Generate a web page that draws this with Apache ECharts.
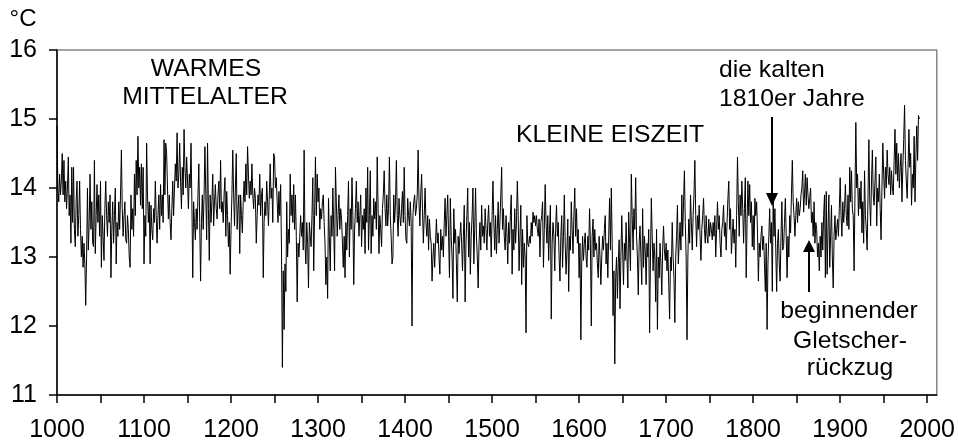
<!DOCTYPE html>
<html><head><meta charset="utf-8">
<script src="https://cdn.jsdelivr.net/npm/echarts@6/dist/echarts.min.js"></script>
<style>html,body{margin:0;padding:0;background:#fff}#c{width:958px;height:446px}</style>
</head><body><div id="c"></div>
<script>
// Yearly mean temperature (°C), one value per year
const firstYear = 1000;
const t1000s = [
14.9,14.0,13.8,14.2,13.9,14.1,14.5,13.9,14.4,13.8,
14.1,13.7,14.0,14.45,13.6,13.9,13.2,14.3,13.5,14.3,
13.4,13.15,13.8,14.1,13.3,13.6,14.1,13.4,13.0,13.3,
12.85,13.2,12.9,12.3,13.0,14.0,13.1,13.5,14.2,13.4,
13.8,13.2,13.15,14.4,13.05,13.6,14.05,13.5,13.9,13.3,
14.1,12.85,13.6,13.3,12.95,13.7,14.1,13.6,13.3,13.8,
13.5,13.9,12.7,13.4,13.8,13.2,13.6,14.0,12.9,13.5,
13.3,13.8,13.4,13.9,14.55,13.7,13.3,13.6,13.8,13.25,
13.2,13.6,13.4,13.0,12.85,13.9,13.4,13.7,13.3,14.2,
13.6,14.4,13.9,14.75,14.0,14.3,13.75,14.35,13.7,14.3];
const t1100s = [
12.9,13.6,13.3,14.65,13.9,13.5,13.8,12.9,13.75,13.4,
13.25,13.7,13.5,14.1,13.6,13.2,13.6,13.9,13.4,14.05,
13.6,13.9,13.5,14.7,13.9,14.65,14.5,14.0,13.55,13.9,
13.5,13.25,13.7,14.1,13.6,14.0,14.35,14.1,14.8,14.0,
14.2,14.65,14.1,13.7,14.3,13.9,14.85,14.3,14.0,14.45,
14.1,13.7,14.2,14.0,14.65,13.8,12.7,13.8,13.5,13.25,
13.7,13.4,13.9,14.35,13.5,12.65,13.5,13.9,13.4,13.9,
14.6,13.9,13.25,14.65,13.7,12.95,13.9,13.5,13.8,14.2,
13.45,13.8,14.05,13.7,13.55,13.9,14.1,13.7,14.4,13.65,
13.8,13.5,13.9,14.15,13.3,13.95,13.6,13.15,13.5,12.75];
const t1200s = [
13.4,13.9,14.55,13.9,13.45,14.0,14.5,13.4,13.7,13.9,
13.05,13.9,13.6,13.35,13.8,14.1,13.8,14.35,13.9,14.6,
14.2,13.85,14.1,13.9,14.35,13.9,13.7,14.0,13.85,13.2,
13.6,13.9,13.75,14.2,13.6,13.9,14.0,12.7,13.5,13.8,
13.6,14.1,13.8,13.45,13.9,14.35,13.85,14.0,13.5,14.5,
14.45,14.0,14.15,13.8,13.5,13.95,13.6,14.05,13.1,11.4,
12.8,11.95,12.9,12.5,13.8,13.0,13.4,13.2,14.2,13.6,
13.9,13.5,14.05,13.4,13.9,13.3,12.35,13.2,13.0,13.3,
13.6,13.3,13.5,13.1,14.55,13.2,12.9,13.5,13.2,12.55,
13.5,13.3,13.15,13.6,14.15,12.8,13.6,14.45,13.6,14.2];
const t1300s = [
13.8,14.0,13.4,13.7,13.55,13.8,13.9,13.5,13.2,12.6,
13.0,12.4,13.85,13.3,12.8,13.6,13.3,14.0,13.4,12.8,
14.3,13.8,13.3,13.6,13.9,13.4,13.7,13.55,13.2,12.85,
13.3,12.7,13.5,13.1,13.6,14.1,13.0,13.7,13.4,14.15,
13.6,12.6,13.4,13.7,14.1,13.5,13.8,13.3,13.6,13.9,
13.15,13.6,13.4,13.7,13.05,14.0,13.5,14.3,13.1,13.6,
14.25,13.05,13.6,13.3,13.85,13.55,13.8,13.4,14.45,13.7,
13.05,13.6,13.4,13.15,13.7,13.9,14.25,13.7,13.45,13.9,
13.45,13.7,14.45,13.6,13.3,12.9,13.0,13.9,13.5,13.8,
14.4,13.6,13.3,13.85,13.6,13.45,13.7,13.95,13.5,14.3];
const t1400s = [
13.6,13.25,13.2,13.85,13.6,13.45,13.8,13.5,12.0,13.6,
13.8,13.9,13.6,13.7,13.9,14.55,13.8,13.45,13.9,14.2,
13.7,13.2,13.6,14.0,13.5,13.3,13.6,13.1,13.55,13.3,
13.2,12.65,13.0,13.2,12.85,13.2,13.55,13.2,13.35,13.0,
12.75,13.4,13.1,13.3,13.0,13.5,13.85,13.3,13.6,13.9,
13.3,12.7,13.85,13.3,13.0,12.4,13.7,13.2,13.4,12.9,
12.35,13.3,13.05,13.3,13.5,13.2,12.8,13.3,13.75,12.35,
13.2,13.6,14.0,13.0,13.5,12.75,13.3,13.6,14.0,12.9,
13.4,14.0,13.3,13.0,12.55,13.2,13.5,13.1,13.75,13.3,
13.45,13.2,13.7,13.4,13.1,13.5,13.75,13.3,13.5,13.0];
const t1500s = [
13.6,14.1,13.5,13.1,13.6,13.05,13.4,13.8,13.2,13.5,
13.9,14.3,13.4,13.7,13.3,13.1,13.6,13.35,12.9,13.5,
13.2,13.6,13.9,12.75,13.4,13.1,13.7,13.2,13.5,14.1,
13.6,12.8,13.3,13.75,12.6,13.4,12.85,13.2,13.0,11.9,
13.6,13.2,13.15,13.3,13.2,13.5,13.3,13.65,13.5,13.6,
13.45,13.6,13.4,13.3,13.55,13.0,13.5,13.6,13.8,12.85,
13.4,14.05,13.5,13.2,13.6,12.95,13.4,13.75,12.1,13.2,
13.5,13.3,12.8,13.4,13.75,13.3,13.5,13.0,12.65,13.3,
13.6,12.85,13.3,13.9,13.2,12.75,13.1,13.55,12.5,13.3,
13.1,13.8,13.4,13.05,13.6,14.0,13.3,13.7,13.2,13.4];
const t1600s = [
12.7,13.2,11.8,12.9,13.3,12.95,13.2,13.35,13.0,12.85,
13.3,13.1,13.7,13.2,12.0,13.3,13.55,13.0,13.4,13.1,
13.2,12.9,12.7,13.3,13.0,12.6,13.0,13.3,13.1,13.4,
13.6,12.9,13.2,12.7,13.3,13.85,13.1,14.0,13.2,12.15,
12.8,11.45,12.7,13.0,12.4,12.9,13.25,12.25,13.0,13.6,
13.1,12.6,13.2,12.95,13.5,13.0,12.55,13.65,13.2,12.8,
14.2,13.6,13.1,13.7,13.4,14.15,13.3,13.0,12.45,13.2,
13.45,13.0,12.6,13.7,12.85,13.3,13.1,12.6,13.2,13.0,
13.4,11.9,13.0,13.85,13.3,12.8,13.2,13.0,12.35,13.4,
11.95,13.0,12.7,13.2,12.9,12.45,13.1,13.45,13.1,12.95];
const t1700s = [
13.2,12.8,13.1,12.6,12.1,13.0,12.8,13.5,13.0,12.7,
12.05,13.0,13.3,13.75,12.9,13.2,13.5,13.1,13.9,13.3,
13.8,14.25,13.5,13.0,11.8,13.0,13.55,13.2,13.9,13.5,
13.1,13.6,13.9,14.4,13.6,13.15,13.6,13.4,13.75,13.3,
12.95,13.4,13.6,13.85,13.4,13.2,13.6,13.3,13.2,13.55,
13.3,13.5,13.4,13.25,13.5,13.3,13.6,13.0,13.4,13.8,
13.4,13.6,13.2,13.0,13.4,13.5,13.75,13.3,13.5,13.1,
13.5,13.85,14.1,13.4,13.7,13.05,13.3,13.55,13.2,13.4,
12.85,13.6,14.45,13.8,13.3,13.9,13.6,14.1,13.7,13.2,
13.7,14.15,12.7,13.5,14.1,13.6,14.05,13.5,13.8,13.15];
const t1800s = [
13.6,13.1,13.85,13.6,13.8,13.35,12.65,13.2,13.0,13.3,
13.45,13.1,13.3,12.9,12.5,13.2,11.95,12.9,13.3,13.7,
13.2,13.5,12.5,13.85,13.3,13.7,13.1,12.5,13.2,13.4,
12.9,12.65,13.3,13.8,13.1,13.15,13.5,13.85,13.3,12.7,
13.3,13.0,13.6,13.35,13.9,14.4,13.8,13.6,13.3,13.6,
13.85,13.5,13.8,13.6,13.7,13.9,14.0,14.25,13.65,13.9,
14.2,13.75,14.15,13.9,13.7,13.85,14.0,13.5,13.65,13.3,
13.8,13.2,13.5,13.4,13.0,13.2,12.8,13.3,13.0,13.5,
13.1,13.6,13.9,12.7,13.95,12.75,13.4,13.9,12.85,13.3,
13.75,13.0,12.55,13.3,13.6,13.25,13.4,13.55,13.3,13.7];
const t1900s = [
14.15,13.6,13.3,13.8,13.5,13.7,14.05,13.6,13.45,13.9,
13.4,14.3,13.8,14.25,13.7,13.6,12.8,13.9,14.95,14.0,
14.2,13.6,14.0,13.7,14.1,13.35,13.8,13.2,14.25,13.6,
13.4,13.1,13.9,14.7,13.8,13.45,14.1,14.55,13.9,13.75,
14.1,14.45,13.45,14.0,13.8,14.2,13.7,13.25,14.0,14.65,
14.2,13.85,14.3,14.0,14.55,14.2,14.05,14.3,13.9,14.25,
14.0,13.9,14.4,14.85,14.2,14.65,14.1,14.5,14.0,14.3,
14.5,13.8,14.3,14.7,15.2,14.4,14.1,13.85,14.3,14.85,
14.3,14.5,13.75,14.2,14.0,14.75,13.8,14.45,14.9,14.4,
15.05,15.0];
const temps = [].concat(t1000s,t1100s,t1200s,t1300s,t1400s,t1500s,t1600s,t1700s,t1800s,t1900s);

const xTickValues = [1000,1050,1100,1150,1200,1250,1300,1350,1400,1450,1500,1550,1600,1650,1700,1750,1800,1850,1900,1950,2000];
const xLabelValues = [1000,1100,1200,1300,1400,1500,1600,1700,1800,1900,2000];
const unitLabel = '°C';
const notes = [
  {text:'WARMES', x:206, y:69, align:'center'},
  {text:'MITTELALTER', x:205, y:97, align:'center'},
  {text:'KLEINE EISZEIT', x:610, y:135, align:'center'},
  {text:'die kalten', x:719, y:70, align:'left'},
  {text:'1810er Jahre', x:719, y:99, align:'left'},
  {text:'beginnender', x:849, y:311, align:'center'},
  {text:'Gletscher-', x:850, y:341, align:'center'},
  {text:'rückzug', x:850, y:368, align:'center'}
];

const FONT = '"Liberation Sans", Arial, sans-serif';
const FS = 25;
const chart = echarts.init(document.getElementById('c'), null, {renderer:'canvas'});
const graphics = notes.map(n => ({
  type:'text', silent:true, z:100, x:n.x, y:n.y, scaleX:1.03,
  style:{text:n.text, x:0, y:0, textAlign:n.align, textVerticalAlign:'middle',
         font: '24px ' + FONT, fill:'#000'}
}));
graphics.push({type:'text', silent:true, x:23, y:19, style:{text:unitLabel, x:0, y:0, textAlign:'center', textVerticalAlign:'middle', font: '24px ' + FONT, fill:'#000'}});
// arrows
graphics.push({type:'line', silent:true, z:100, shape:{x1:772,y1:117,x2:772,y2:196}, style:{stroke:'#000', lineWidth:2}});
graphics.push({type:'polygon', silent:true, z:100, shape:{points:[[766,193],[778,193],[772,206]]}, style:{fill:'#000'}});
graphics.push({type:'line', silent:true, z:100, shape:{x1:809,y1:250,x2:809,y2:292}, style:{stroke:'#000', lineWidth:2}});
graphics.push({type:'polygon', silent:true, z:100, shape:{points:[[803,252],[815,252],[809,240]]}, style:{fill:'#000'}});

chart.setOption({
  animation:false,
  backgroundColor:'#fff',
  grid:{left:57,right:21,top:50,bottom:51,show:true,borderColor:'#888',borderWidth:1.5,backgroundColor:'transparent'},
  xAxis:{
    type:'value', min:1000, max:2011, interval:50,
    axisLine:{onZero:false, lineStyle:{color:'#000', width:1.5}},
    axisTick:{show:true, customValues:xTickValues, length:8, lineStyle:{color:'#000', width:1.5}},
    axisLabel:{customValues:xLabelValues, margin:23, fontSize:FS, fontFamily:FONT, color:'#000',
      formatter: v => (v % 100 === 0 && v <= 2000) ? String(v) : ''},
    splitLine:{show:false}
  },
  yAxis:{
    type:'value', min:11, max:16, interval:1,
    axisLine:{show:true, lineStyle:{color:'#000', width:1.5}},
    axisTick:{show:true, length:8, lineStyle:{color:'#000', width:1.5}},
    axisLabel:{margin:20, fontSize:FS, fontFamily:FONT, color:'#000'},
    splitLine:{show:false}
  },
  series:[{
    type:'line', silent:true, showSymbol:false, symbol:'none',
    data: temps.map((t,i) => [firstYear + i, t]),
    lineStyle:{color:'#000', width:1}
  }],
  graphic: graphics
});
</script></body></html>
